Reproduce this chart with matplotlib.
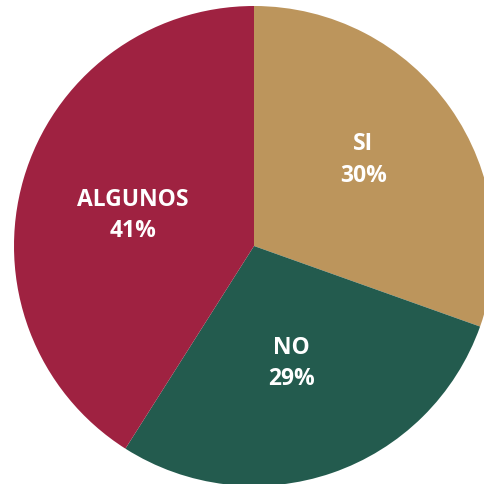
import matplotlib
matplotlib.use("Agg")
import matplotlib.pyplot as plt
import numpy as np

categories = ["SI", "NO", "ALGUNOS"]
values = [30.45, 28.55, 41.0]
colors = ["#BC955C", "#235B4E", "#9F2241"]

W, H = 485, 484
fig = plt.figure(figsize=(W / 100, H / 100), dpi=100)
cx, cy, r = 254, 246, 240
ax = fig.add_axes([(cx - r) / W, (H - cy - r) / H, 2 * r / W, 2 * r / H])

wedges, _ = ax.pie(values, colors=colors, startangle=90, counterclock=False,
                   radius=1, wedgeprops=dict(linewidth=0))
ax.set_xlim(-1, 1)
ax.set_ylim(-1, 1)
ax.set_aspect("equal")
ax.axis("off")
total = sum(values)
dists = [0.58, 0.515, 0.52]
offsets = [3.0, -1.2, 2.0]
for w, cat, v, d, o in zip(wedges, categories, values, dists, offsets):
    ang = np.deg2rad((w.theta1 + w.theta2) / 2 + o)
    pct = round(100 * v / total)
    ax.text(d * np.cos(ang), d * np.sin(ang), f"{cat}\n{pct}%", ha="center", va="center",
            color="white", fontsize=16.5, fontweight="bold", family="Open Sans",
            linespacing=1.42)

fig.savefig("out.png", dpi=100, facecolor="white")
